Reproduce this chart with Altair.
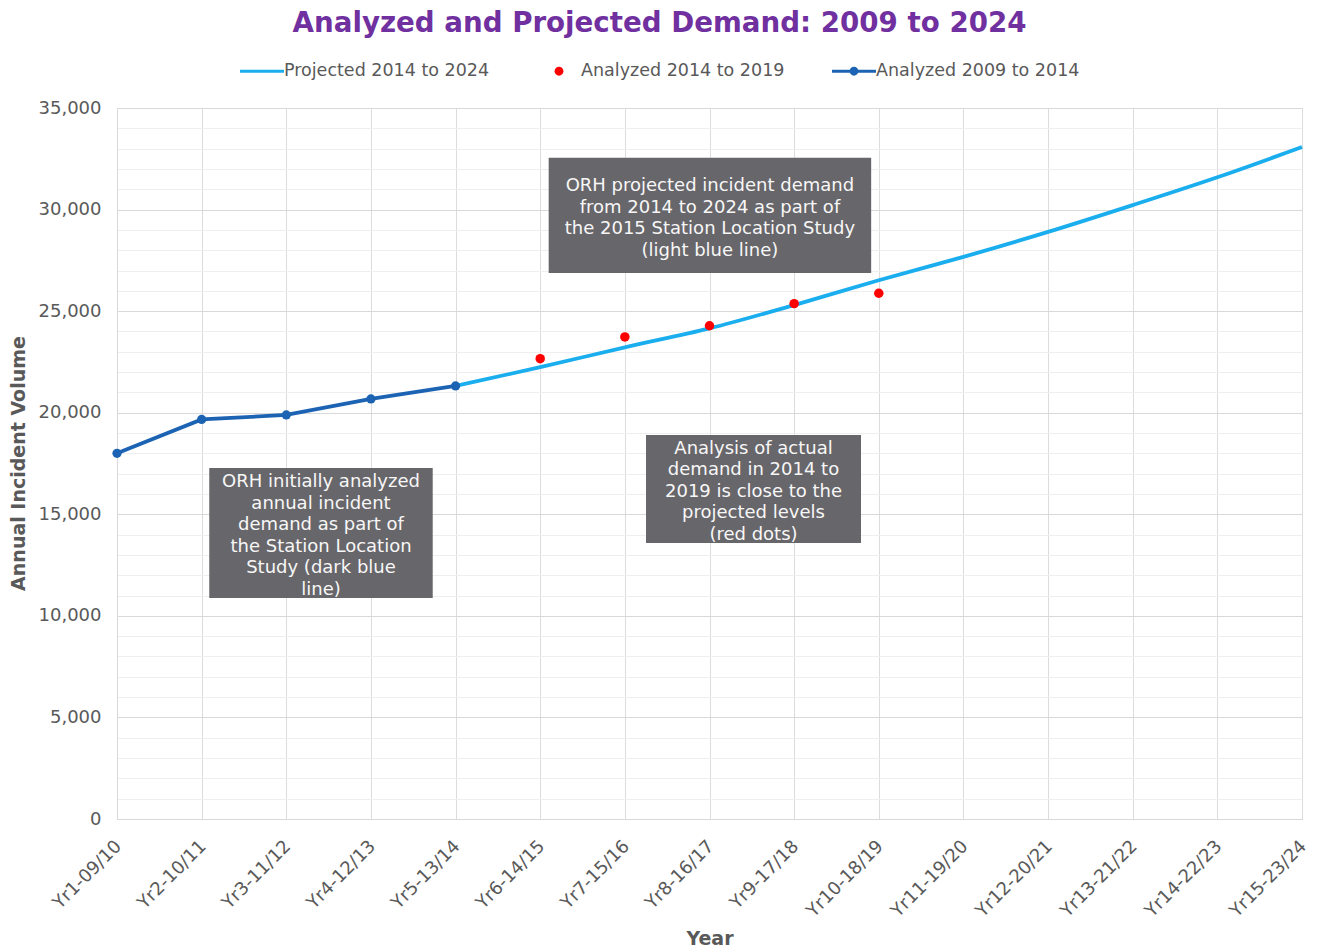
import json
import altair as alt
import pandas as pd

# ---------------- data ----------------
years = ["Yr1-09/10", "Yr2-10/11", "Yr3-11/12", "Yr4-12/13", "Yr5-13/14",
         "Yr6-14/15", "Yr7-15/16", "Yr8-16/17", "Yr9-17/18", "Yr10-18/19",
         "Yr11-19/20", "Yr12-20/21", "Yr13-21/22", "Yr14-22/23", "Yr15-23/24"]
year_index = list(range(1, 16))

analyzed_0914_idx = [1, 2, 3, 4, 5]
analyzed_0914 = [18000, 19670, 19890, 20680, 21320]

projected_idx = [5, 6, 7, 8, 9, 10, 11, 12, 13, 14, 15]
projected = [21320, 22240, 23220, 24150, 25300, 26520, 27670, 28900, 30220, 31590, 33080]

analyzed_1419_idx = [6, 7, 8, 9, 10]
analyzed_1419 = [22660, 23730, 24280, 25370, 25880]

series_names = ["Projected 2014 to 2024", "Analyzed 2014 to 2019", "Analyzed 2009 to 2014"]
series_colors = ["#1AAEEE", "#FF0000", "#1C63B4"]

ann_text = [
    "ORH initially analyzed\nannual incident\ndemand as part of\nthe Station Location\nStudy (dark blue\nline)",
    "ORH projected incident demand\nfrom 2014 to 2024 as part of\nthe 2015 Station Location Study\n(light blue line)",
    "Analysis of actual\ndemand in 2014 to\n2019 is close to the\nprojected levels\n(red dots)",
]
ann_x1 = [2.09, 6.10, 7.25]
ann_x2 = [4.73, 9.91, 9.79]
ann_y1 = [10880, 26880, 13590]
ann_y2 = [17280, 32550, 18900]

y_ticks = list(range(0, 35001, 1000))

# ---------------- tables ----------------
df_dark = pd.DataFrame({"x": analyzed_0914_idx, "y": analyzed_0914})
df_proj = pd.DataFrame({"x": projected_idx, "y": projected})
df_red = pd.DataFrame({"x": analyzed_1419_idx, "y": analyzed_1419})
df_ann = pd.DataFrame({"text": ann_text, "x1": ann_x1, "x2": ann_x2, "y1": ann_y1, "y2": ann_y2})
df_leg = pd.DataFrame({"series": series_names, "x": [1, 1, 1], "y": [0, 0, 0]})

FONT = "DejaVu Sans"
GREY = "#595959"
LINE_H = 21.5

x_scale = alt.Scale(domain=[1, 15], nice=False, zero=False)
y_scale = alt.Scale(domain=[0, 35000], nice=False)

x_axis = alt.Axis(
    values=year_index,
    labelExpr=f"{json.dumps(years)}[datum.value - 1]",
    labelAngle=-45, labelAlign="right", labelBaseline="top",
    labelPadding=18, labelOffset=-5, labelFontSize=18, labelColor=GREY, labelFont=FONT,
    labelOverlap=False,
    ticks=False, grid=True, gridColor="#dcdcdc", gridWidth=1,
    domainColor="#d9d9d9",
    title="Year", titleFont=FONT, titleFontSize=19, titleFontWeight="bold",
    titleColor=GREY, titleBaseline="middle", titleY=119,
)
y_axis = alt.Axis(
    values=y_ticks,
    labelExpr="datum.value % 5000 == 0 ? format(datum.value, ',') : ''",
    labelPadding=16, labelFontSize=18, labelColor=GREY, labelFont=FONT,
    labelOverlap=False,
    ticks=False, grid=True,
    gridColor=alt.condition("datum.value % 5000 == 0", alt.value("#d9d9d9"), alt.value("#eeeeee")),
    domainColor="#d9d9d9",
    title="Annual Incident Volume", titleFont=FONT, titleFontSize=19,
    titleFontWeight="bold", titleColor=GREY, titleBaseline="middle",
    titleX=-99, titleY=355, titleAngle=-90,
)

X = lambda: alt.X("x:Q", scale=x_scale, axis=x_axis)
Y = lambda: alt.Y("y:Q", scale=y_scale, axis=y_axis)

boxes = alt.Chart(df_ann).mark_rect(color="#67666A").encode(
    x=alt.X("x1:Q", scale=x_scale, axis=x_axis), x2="x2:Q",
    y=alt.Y("y1:Q", scale=y_scale, axis=y_axis), y2="y2:Q",
)

# one text layer per note so each multi-line block can be centred in its box
text_layers = []
for i, txt in enumerate(ann_text):
    n_lines = txt.count("\n") + 1
    text_layers.append(
        alt.Chart(df_ann.iloc[[i]]).transform_calculate(
            xc="(datum.x1 + datum.x2) / 2",
            yc="(datum.y1 + datum.y2) / 2",
        ).mark_text(
            color="#F7F7F7", font=FONT, fontSize=18, lineBreak="\n", lineHeight=LINE_H,
            align="center", baseline="middle", dy=-(n_lines - 1) * LINE_H / 2 + 3,
        ).encode(
            x=alt.X("xc:Q", scale=x_scale, axis=x_axis),
            y=alt.Y("yc:Q", scale=y_scale, axis=y_axis),
            text="text:N",
        )
    )

proj_line = alt.Chart(df_proj).mark_line(
    color=series_colors[0], strokeWidth=3.8, interpolate="monotone"
).encode(x=X(), y=Y())
dark_line = alt.Chart(df_dark).mark_line(
    color=series_colors[2], strokeWidth=3.8
).encode(x=X(), y=Y())
dark_pts = alt.Chart(df_dark).mark_point(
    color=series_colors[2], filled=True, opacity=1, size=85, shape="circle"
).encode(x=X(), y=Y())
red_pts = alt.Chart(df_red).mark_point(
    color=series_colors[1], filled=True, opacity=1, size=90, shape="circle"
).encode(x=X(), y=Y())

line_path = "M-1,-0.07L1,-0.07L1,0.07L-1,0.07Z"
dot_path = "M0.2,0A0.2,0.2,0,1,1,-0.2,0A0.2,0.2,0,1,1,0.2,0Z"
legend_carrier = alt.Chart(df_leg).transform_filter("false").mark_point(
    filled=True, opacity=1
).encode(
    x=X(), y=Y(),
    color=alt.Color("series:N", scale=alt.Scale(domain=series_names, range=series_colors),
                    legend=alt.Legend(title=None)),
    shape=alt.Shape("series:N", scale=alt.Scale(domain=series_names,
                    range=[line_path, dot_path, line_path + " " + dot_path]),
                    legend=alt.Legend(title=None)),
)

chart = alt.layer(
    boxes, *text_layers, proj_line, dark_line, dark_pts, red_pts, legend_carrier
).properties(
    width=1185, height=711,
    padding={"left": 117, "top": 108, "right": 16, "bottom": 132},
    autosize=alt.AutoSizeParams(type="none"),
    title=alt.Title(
        "Analyzed and Projected Demand: 2009 to 2024",
        font=FONT, fontSize=27.7, fontWeight="bold", color="#7030A0",
        anchor="middle", frame="group", dx=-50, offset=11,
    ),
).configure_view(
    stroke="#d9d9d9"
).configure_legend(
    orient="none", legendX=123, legendY=-59, direction="horizontal",
    symbolSize=1936, symbolStrokeWidth=0, symbolOpacity=1,
    labelFont=FONT, labelFontSize=17.5, labelColor=GREY, labelOffset=0,
    labelLimit=400, columnPadding=47, symbolType="circle",
)

chart.save("out.html", embed_options={"renderer": "svg", "actions": False})
